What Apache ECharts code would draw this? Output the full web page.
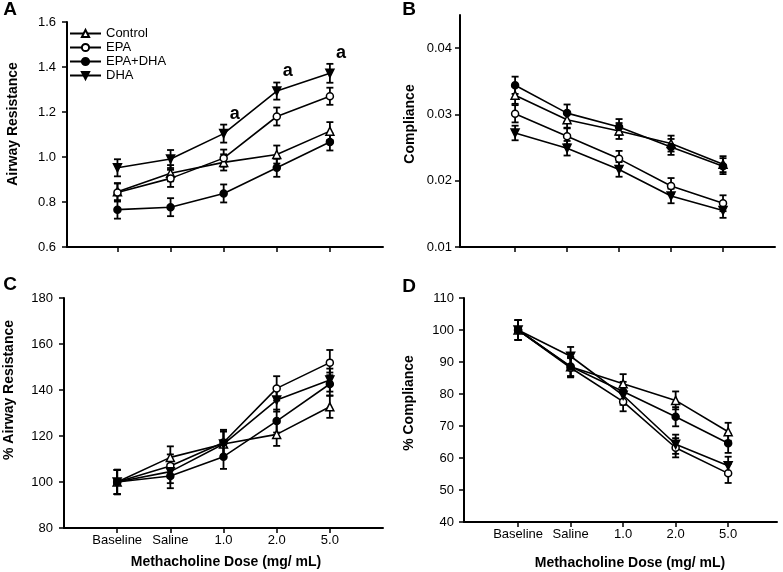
<!DOCTYPE html>
<html><head><meta charset="utf-8">
<script src="https://cdn.jsdelivr.net/npm/echarts@6/dist/echarts.min.js"></script>
<style>html,body{margin:0;padding:0;background:#fff}#c{width:783px;height:572px}</style>
</head><body><div id="c"></div>
<script>
const categories = ['Baseline', 'Saline', '1.0', '2.0', '5.0'];
const seriesNames = ['Control', 'EPA', 'EPA+DHA', 'DHA'];

// Panel A: Airway Resistance (mean, SE)
const resControl = [0.846, 0.928, 0.976, 1.011, 1.115];
const resEPA     = [0.842, 0.905, 0.995, 1.180, 1.270];
const resEPADHA  = [0.766, 0.777, 0.838, 0.952, 1.067];
const resDHA     = [0.952, 0.991, 1.104, 1.293, 1.372];
const resErrControl = [0.038, 0.036, 0.036, 0.040, 0.040];
const resErrEPA     = [0.040, 0.038, 0.038, 0.040, 0.038];
const resErrEPADHA  = [0.040, 0.040, 0.040, 0.040, 0.038];
const resErrDHA     = [0.038, 0.040, 0.040, 0.038, 0.042];

// Panel B: Compliance
const compControl = [0.0329, 0.0292, 0.0275, 0.0256, 0.0225];
const compEPA     = [0.0301, 0.0267, 0.0233, 0.0192, 0.0166];
const compEPADHA  = [0.0344, 0.0302, 0.0281, 0.0251, 0.0222];
const compDHA     = [0.0272, 0.0249, 0.0217, 0.0177, 0.0155];
const compErrControl = [0.0013, 0.0012, 0.0012, 0.0012, 0.0012];
const compErrEPA     = [0.0013, 0.0012, 0.0012, 0.0012, 0.0012];
const compErrEPADHA  = [0.0013, 0.0013, 0.0012, 0.0012, 0.0012];
const compErrDHA     = [0.0011, 0.0011, 0.0011, 0.0011, 0.0011];

// Panel C: % Airway Resistance
const pctResControl = [100, 110.7, 116.5, 120.7, 132.7];
const pctResEPA     = [100, 107.0, 117.2, 140.7, 151.9];
const pctResEPADHA  = [100, 102.6, 111.0, 126.5, 142.6];
const pctResDHA     = [100, 104.5, 116.5, 135.6, 144.3];
const pctResErrControl = [5.3, 4.8, 5.5, 5.0, 4.8];
const pctResErrEPA     = [5.3, 5.0, 5.5, 5.3, 5.5];
const pctResErrEPADHA  = [5.3, 5.3, 5.3, 5.0, 5.0];
const pctResErrDHA     = [5.3, 5.0, 5.5, 5.0, 5.0];

// Panel D: % Compliance
const pctCompControl = [100, 88.5, 83.2, 78.0, 68.2];
const pctCompEPA     = [100, 88.2, 77.6, 63.2, 55.2];
const pctCompEPADHA  = [100, 88.6, 80.8, 72.9, 64.6];
const pctCompDHA     = [100, 91.8, 79.6, 64.3, 57.6];
const pctCompErrControl = [3.1, 3.0, 3.0, 2.8, 2.8];
const pctCompErrEPA     = [3.1, 3.0, 3.0, 3.0, 3.0];
const pctCompErrEPADHA  = [3.1, 3.0, 3.0, 3.0, 3.0];
const pctCompErrDHA     = [3.1, 2.9, 3.0, 3.0, 2.8];

// significance annotations on DHA in panel A
const annotIndex = [2, 3, 4];
const annotText = 'a';

const FF = '"Liberation Sans", Arial, Helvetica, sans-serif';
const downTri = 'path://M0,0 L10,0 L5,9 Z';
const symbols = ['triangle', 'circle', 'circle', downTri];
const symbolSizes = [8, 7, 7, 8];
const fills = ['#fff', '#fff', '#000', '#000'];

const panels = [
  { vals: [resControl, resEPA, resEPADHA, resDHA], errs: [resErrControl, resErrEPA, resErrEPADHA, resErrDHA] },
  { vals: [compControl, compEPA, compEPADHA, compDHA], errs: [compErrControl, compErrEPA, compErrEPADHA, compErrDHA] },
  { vals: [pctResControl, pctResEPA, pctResEPADHA, pctResDHA], errs: [pctResErrControl, pctResErrEPA, pctResErrEPADHA, pctResErrDHA] },
  { vals: [pctCompControl, pctCompEPA, pctCompEPADHA, pctCompDHA], errs: [pctCompErrControl, pctCompErrEPA, pctCompErrEPADHA, pctCompErrDHA] }
];

const grids = [
  { left: 67, top: 22, width: 316, height: 225 },
  { left: 460, top: 15, width: 315, height: 232 },
  { left: 64, top: 298, width: 319, height: 230 },
  { left: 464, top: 298, width: 313, height: 224 }
];

const catIdx = categories.map((c, i) => i);

function xAxisCfg(g, min, max, showLabels) {
  return {
    type: 'value', gridIndex: g, min: min, max: max,
    axisLine: { onZero: false, lineStyle: { color: '#000', width: 2 } },
    axisTick: { show: true, customValues: catIdx, length: 5, lineStyle: { color: '#000', width: 1.5 } },
    axisLabel: { show: showLabels, customValues: catIdx, formatter: v => categories[Math.round(v)], margin: 6, fontSize: 13, color: '#000', fontFamily: FF },
    splitLine: { show: false }
  };
}
function yAxisCfg(g, min, max, interval, fmt, margin, custom) {
  const ax = {
    type: 'value', gridIndex: g, min: min, max: max,
    axisLine: { show: true, onZero: false, lineStyle: { color: '#000', width: 2 } },
    axisTick: { show: true, length: 5, lineStyle: { color: '#000', width: 1.5 } },
    axisLabel: { formatter: fmt, margin: margin, fontSize: 13, color: '#000', fontFamily: FF },
    splitLine: { show: false }
  };
  if (interval) ax.interval = interval;
  if (custom) { ax.axisTick.customValues = custom; ax.axisLabel.customValues = custom; }
  return ax;
}

function errRender(params, api) {
  const x = api.value(0), lo = api.value(1), hi = api.value(2);
  const p1 = api.coord([x, lo]), p2 = api.coord([x, hi]);
  const w = 3.5;
  const style = { stroke: '#000', lineWidth: 1.8 };
  return { type: 'group', children: [
    { type: 'line', shape: { x1: p1[0], y1: p1[1], x2: p2[0], y2: p2[1] }, style: style },
    { type: 'line', shape: { x1: p1[0] - w, y1: p1[1], x2: p1[0] + w, y2: p1[1] }, style: style },
    { type: 'line', shape: { x1: p2[0] - w, y1: p2[1], x2: p2[0] + w, y2: p2[1] }, style: style }
  ]};
}

const series = [];
panels.forEach((p, g) => {
  p.vals.forEach((vals, s) => {
    series.push({
      type: 'custom', name: 'err-' + g + '-' + s, xAxisIndex: g, yAxisIndex: g,
      renderItem: errRender, silent: true, z: 2,
      encode: { x: 0, y: [1, 2] },
      data: vals.map((v, i) => [i, v - p.errs[s][i], v + p.errs[s][i]])
    });
  });
  p.vals.forEach((vals, s) => {
    series.push({
      type: 'line', name: seriesNames[s], xAxisIndex: g, yAxisIndex: g,
      data: vals.map((v, i) => [i, v]),
      symbol: symbols[s], symbolSize: symbolSizes[s], showSymbol: true,
      lineStyle: { color: '#000', width: 1.6 },
      itemStyle: { color: fills[s], borderColor: '#000', borderWidth: 1.5 },
      emphasis: { disabled: true }, silent: true, z: 3
    });
  });
});

series.push({
  type: 'scatter', name: 'annot', xAxisIndex: 0, yAxisIndex: 0,
  symbolSize: 0, itemStyle: { color: 'transparent', opacity: 1 }, silent: true, z: 5,
  data: annotIndex.map(i => [i, resDHA[i] + resErrDHA[i]]),
  label: { show: true, position: 'inside', offset: [11, -11], formatter: annotText,
    fontSize: 18, fontWeight: 'bold', color: '#000', opacity: 1, fontFamily: FF }
});

function txt(x, y, text, size, rot) {
  return { type: 'text', x: x, y: y, rotation: rot || 0, silent: true,
    style: { text: text, fill: '#000', font: 'bold ' + size + 'px ' + FF, textAlign: 'center', textVerticalAlign: 'middle' } };
}

const option = {
  animation: false,
  backgroundColor: '#fff',
  grid: grids,
  xAxis: [xAxisCfg(0, -0.95, 5, false), xAxisCfg(1, -1.06, 5, false), xAxisCfg(2, -1, 5, true), xAxisCfg(3, -1.03, 4.93, true)],
  yAxis: [
    yAxisCfg(0, 0.6, 1.6, 0.2, v => v.toFixed(1), 11),
    yAxisCfg(1, 0.01, 0.045, null, v => v.toFixed(2), 8, [0.01, 0.02, 0.03, 0.04]),
    yAxisCfg(2, 80, 180, 20, v => String(Math.round(v)), 11),
    yAxisCfg(3, 40, 110, 10, v => String(Math.round(v)), 10)
  ],
  legend: {
    data: seriesNames, orient: 'vertical', left: 69, top: 27, padding: 0,
    itemWidth: 31, itemHeight: 9, itemGap: 1, selectedMode: false,
    textStyle: { fontSize: 13, color: '#000', fontFamily: FF }
  },
  graphic: [
    txt(10, 10, 'A', 19), txt(409, 10, 'B', 19), txt(10, 285, 'C', 19), txt(409, 287, 'D', 19),
    txt(13, 124, 'Airway Resistance', 14, Math.PI / 2),
    txt(410, 124, 'Compliance', 14, Math.PI / 2),
    txt(9, 390, '% Airway Resistance', 14, Math.PI / 2),
    txt(409, 403, '% Compliance', 14, Math.PI / 2),
    txt(226, 562, 'Methacholine Dose (mg/ mL)', 14),
    txt(630, 563, 'Methacholine Dose (mg/ mL)', 14)
  ],
  series: series
};
const chart = echarts.init(document.getElementById('c'), null, { renderer: 'canvas' });
chart.setOption(option);
</script>
</body></html>
